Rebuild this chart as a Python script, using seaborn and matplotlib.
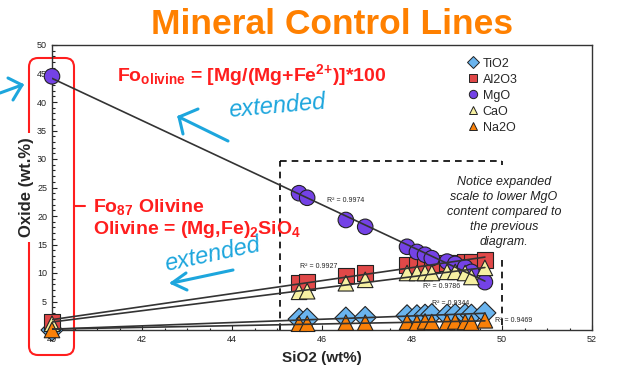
import numpy as np
import pandas as pd
import matplotlib
matplotlib.use("Agg")
import matplotlib.pyplot as plt
import seaborn as sns
from matplotlib.patches import FancyBboxPatch
from matplotlib.lines import Line2D
from matplotlib.ticker import MultipleLocator
from matplotlib.transforms import IdentityTransform

# SiO2 of each sample (wt%); the first one is the extended Fo87 olivine end member
sio2 = [40.0, 45.49, 45.67, 46.53, 46.96, 47.89, 48.11, 48.29, 48.44, 48.78, 48.96, 49.18, 49.32, 49.62]

# oxide contents (wt%) for the same samples
tio2 = [0.0, 1.9, 1.9, 2.1, 2.2, 2.5, 2.5, 2.6, 2.7, 2.6, 2.7, 2.7, 2.6, 3.0]
al2o3 = [1.4, 8.2, 8.4, 9.6, 10.0, 11.4, 11.4, 11.4, 11.6, 11.8, 11.8, 11.9, 12.0, 12.3]
mgo = [44.5, 24.0, 23.2, 19.3, 18.1, 14.6, 13.7, 13.2, 12.6, 12.0, 11.6, 11.0, 10.2, 8.4]
cao = [1.1, 6.7, 6.8, 8.2, 8.8, 10.0, 10.0, 10.0, 10.0, 10.2, 10.2, 10.0, 9.3, 10.9]
na2o = [0.0, 1.1, 1.1, 1.3, 1.3, 1.4, 1.3, 1.5, 1.4, 1.4, 1.5, 1.4, 1.3, 1.7]

oxides = ["TiO2", "Al2O3", "MgO", "CaO", "Na2O"]
r2_values = ["0.9344", "0.9927", "0.9974", "0.9786", "0.9469"]
notice = "Notice expanded\nscale to lower MgO\ncontent compared to\nthe previous\ndiagram."

# long table for seaborn
df = pd.concat([
    pd.DataFrame({"SiO2": sio2, "wt": vals, "Oxide": name})
    for name, vals in zip(oxides, [tio2, al2o3, mgo, cao, na2o])
], ignore_index=True)

colors = {"TiO2": "#6AB4EE", "Al2O3": "#E04848", "MgO": "#7442E6",
          "CaO": "#F6F0A2", "Na2O": "#F98008"}
markers = {"TiO2": "D", "Al2O3": "s", "MgO": "o", "CaO": "^", "Na2O": "^"}
# where the R^2 labels sit (data coords)
r2_pos = {"TiO2": (48.45, 4.4), "Al2O3": (45.5, 10.9), "MgO": (46.1, 22.5),
          "CaO": (48.25, 7.4), "Na2O": (49.85, 1.4)}

sns.set_theme(style="ticks")
plt.rcParams["font.family"] = ["Liberation Sans", "DejaVu Sans"]
plt.rcParams["mathtext.fontset"] = "custom"
plt.rcParams["mathtext.rm"] = "Liberation Sans:bold"
plt.rcParams["mathtext.bf"] = "Liberation Sans:bold"
plt.rcParams["mathtext.default"] = "rm"

W, H = 635, 368
fig = plt.figure(figsize=(W / 100, H / 100), dpi=100)
fig.patch.set_facecolor("white")
ax = fig.add_axes([52 / W, 38 / H, 540 / W, 285 / H])
ax.patch.set_visible(False)

sns.scatterplot(data=df, x="SiO2", y="wt", hue="Oxide", style="Oxide",
                palette=colors, markers=markers, s=125, edgecolor="#222222",
                linewidth=0.8, legend=False, ax=ax, zorder=3, clip_on=False)

# regression (mineral control) lines
for name in oxides:
    sub = df[df["Oxide"] == name]
    sns.regplot(data=sub, x="SiO2", y="wt", scatter=False, ci=None, truncate=True,
                color="#333333", line_kws=dict(lw=1.2, zorder=4), ax=ax)
    x, y = r2_pos[name]
    ax.text(x, y, "R² = " + r2_values[oxides.index(name)], fontsize=5,
            color="#222222", zorder=5)

ax.set_xlim(40, 52)
ax.set_ylim(0, 50)
ax.xaxis.set_major_locator(MultipleLocator(2))
ax.xaxis.set_minor_locator(MultipleLocator(0.5))
ax.yaxis.set_major_locator(MultipleLocator(5))
ax.yaxis.set_minor_locator(MultipleLocator(1))
ax.tick_params(which="both", direction="in", labelsize=6.5, colors="#222222", width=0.8)
ax.tick_params(which="major", length=3.5)
ax.tick_params(which="minor", length=1.8)
for sp in ax.spines.values():
    sp.set_visible(True)
    sp.set_color("#333333")
    sp.set_linewidth(1.0)

ax.set_xlabel("SiO2 (wt%)", fontsize=11, fontweight="bold")
ax.set_ylabel("Oxide (wt.%)", fontsize=12, fontweight="bold")
ax.xaxis.set_label_coords(0.5, -0.072)
ax.yaxis.set_label_coords(-0.034, 0.5)
ax.yaxis.label.set_bbox(dict(facecolor="white", edgecolor="none", pad=3))

# legend
handles = [Line2D([], [], marker=markers[n], color="none", markerfacecolor=colors[n],
                  markeredgecolor="#222222", markeredgewidth=0.7, markersize=6)
           for n in oxides]
ax.legend(handles, oxides, loc="upper left", bbox_to_anchor=(0.77, 0.955),
          frameon=False, fontsize=9, handlelength=0.8, handletextpad=0.4,
          labelspacing=0.32, borderaxespad=0, borderpad=0)

# dashed box around the samples
box_kw = dict(color="black", lw=1.2, ls=(0, (4, 3)), zorder=2)
ax.plot([45.07, 45.07], [0, 29.6], **box_kw)
ax.plot([45.07, 50.0], [29.6, 29.6], **box_kw)
ax.plot([50.0, 50.0], [29.6, 28.9], **box_kw)
ax.plot([50.0, 50.0], [12.3, 0.5], **box_kw)
ax.text(50.04, 20.7, notice, ha="center", va="center", fontsize=9,
        style="italic", color="#222222", linespacing=1.35)

# red annotations
red = "#FF1E1E"
ax.text(41.44, 43.7, r"Fo$_{olivine}$ = [Mg/(Mg+Fe$^{2{+}}$)]*100", color=red,
        fontsize=14, fontweight="bold", va="baseline")
ax.text(40.91, 20.7, r"Fo$_{87}$ Olivine", color=red, fontsize=14,
        fontweight="bold", va="baseline")
ax.text(40.91, 16.9, r"Olivine = (Mg,Fe)$_{2}$SiO$_{4}$", color=red, fontsize=14,
        fontweight="bold", va="baseline")

fig.text(332 / W, 1 - 24 / H, "Mineral Control Lines", ha="center", va="center",
         color="#FF8000", fontsize=25.5, fontweight="bold")


def P(x, y):
    return x, H - y


ident = IdentityTransform()
fig.add_artist(FancyBboxPatch(P(29, 355), 45, 297, boxstyle="round,pad=0,rounding_size=9",
                              edgecolor=red, facecolor="none", lw=1.5,
                              transform=ident, zorder=-1))
fig.add_artist(Line2D(*zip(P(74, 206), P(85, 206)), color=red, lw=1.5,
                      transform=ident, zorder=-1))

# blue hand-drawn notes
blue = "#1DA6DD"
fig.text(*P(277, 106), "extended", color=blue, fontsize=17, style="italic",
         ha="center", va="center", rotation=5, transform=ident)
fig.text(*P(212, 255), "extended", color=blue, fontsize=17, style="italic",
         ha="center", va="center", rotation=12, transform=ident)
strokes = [
    [(228, 141), (179, 117)], [(179, 117), (198, 109)], [(179, 117), (183, 134)],
    [(233, 270), (172, 283)], [(172, 283), (186, 273)], [(172, 283), (187, 290)],
    [(0, 93), (22, 85)], [(8, 78), (22, 85)], [(22, 85), (13, 100)],
]
for seg in strokes:
    xs, ys = zip(*[P(*p) for p in seg])
    fig.add_artist(Line2D(xs, ys, color=blue, lw=2.2, solid_capstyle="round",
                          transform=ident))

fig.savefig("out.png", dpi=100)
